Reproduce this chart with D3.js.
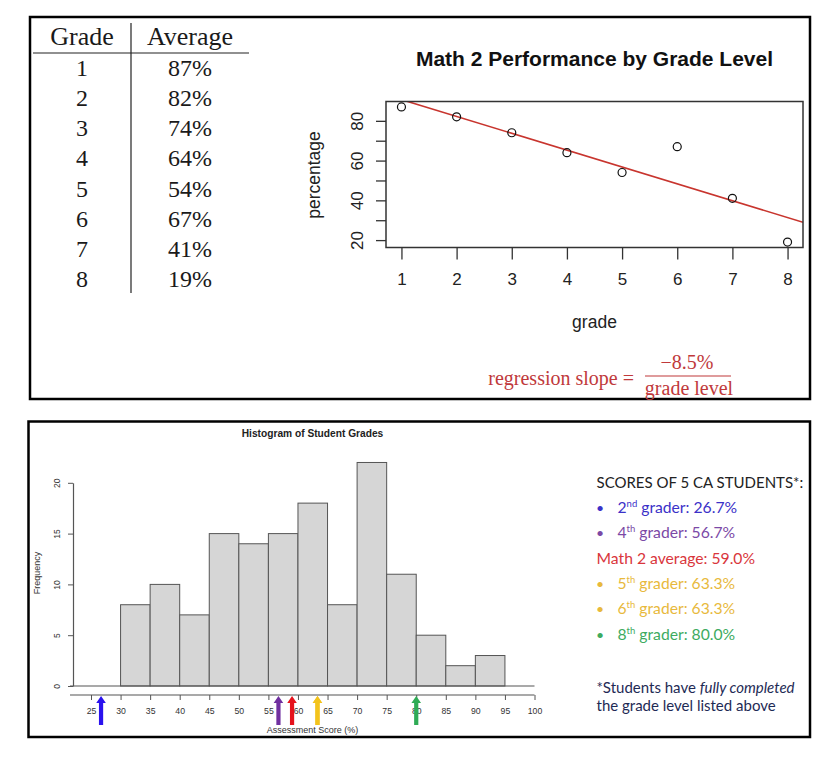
<!DOCTYPE html>
<html>
<head>
<meta charset="utf-8">
<script src="https://cdn.jsdelivr.net/npm/d3@7"></script>
<style>
  html, body { margin: 0; padding: 0; background: #fff; }
  svg { display: block; }
</style>
</head>
<body>
<svg id="chart" width="826" height="757"></svg>
<script>
// ---------- DATA ----------
const grades = [1, 2, 3, 4, 5, 6, 7, 8];
const averages = [87, 82, 74, 64, 54, 67, 41, 19];
const scatterYTicks = [20, 30, 40, 50, 60, 70, 80];
const scatterYLabels = [20, 40, 60, 80];

const binStarts = [30, 35, 40, 45, 50, 55, 60, 65, 70, 75, 80, 85, 90];
const binWidth = 5;
const counts = [8, 10, 7, 15, 14, 15, 18, 8, 22, 11, 5, 2, 3];
const histXTicks = [25, 30, 35, 40, 45, 50, 55, 60, 65, 70, 75, 80, 85, 90, 95, 100];
const histYTicks = [0, 5, 10, 15, 20];

const studentLabels = ["2nd grader", "4th grader", "Math 2 average", "5th grader", "6th grader", "8th grader"];
const studentScores = [26.7, 56.7, 59.0, 63.3, 63.3, 80.0];
const arrowColors = ["#2a12ee", "#7030a0", "#e5121c", "#f3c31c", "#f3c31c", "#2fab55"];
const textColors = ["#3b31c8", "#7b49a6", "#d9363c", "#e8b93c", "#e8b93c", "#3dab60"];

// ---------- SETUP ----------
const svg = d3.select("#chart");
const sans = "Liberation Sans, Arial, Helvetica, sans-serif";
const serif = "Liberation Serif, Times New Roman, serif";
const lato = "Lato, Noto Sans, sans-serif";

// Panel borders
svg.append("rect").attr("x", 30).attr("y", 17).attr("width", 780).attr("height", 382)
  .attr("fill", "none").attr("stroke", "#000").attr("stroke-width", 2.5);
svg.append("rect").attr("x", 28.5).attr("y", 421.5).attr("width", 781.5).attr("height", 315.5)
  .attr("fill", "none").attr("stroke", "#000").attr("stroke-width", 2.5);

// ---------- TABLE ----------
const tbl = svg.append("g").attr("font-family", serif).attr("fill", "#1a1a1a");
const colGrade = 82, colAvg = 190;
tbl.append("text").attr("x", colGrade).attr("y", 45).attr("text-anchor", "middle")
  .attr("font-size", 26).text("Grade");
tbl.append("text").attr("x", colAvg).attr("y", 45).attr("text-anchor", "middle")
  .attr("font-size", 26).text("Average");
tbl.append("line").attr("x1", 33).attr("x2", 249).attr("y1", 53).attr("y2", 53)
  .attr("stroke", "#222").attr("stroke-width", 1.2);
tbl.append("line").attr("x1", 131).attr("x2", 131).attr("y1", 23).attr("y2", 293)
  .attr("stroke", "#222").attr("stroke-width", 1.2);
const rowY = d3.scalePoint().domain(grades).range([76, 287]);
tbl.selectAll("text.g").data(grades).join("text").attr("class", "g")
  .attr("x", colGrade).attr("y", d => rowY(d)).attr("text-anchor", "middle")
  .attr("font-size", 24).text(d => d);
tbl.selectAll("text.a").data(averages).join("text").attr("class", "a")
  .attr("x", colAvg).attr("y", (d, i) => rowY(grades[i])).attr("text-anchor", "middle")
  .attr("font-size", 24).text(d => d + "%");

// ---------- SCATTER ----------
const sx = d3.scaleLinear().domain([0.72, 8.28]).range([386, 803]);
const sy = d3.scaleLinear().domain([16.28, 89.72]).range([247.5, 101.5]);
const sc = svg.append("g");

sc.append("text").attr("x", 594.5).attr("y", 66).attr("text-anchor", "middle")
  .attr("font-family", sans).attr("font-weight", "bold").attr("font-size", 21)
  .attr("fill", "#111").text("Math 2 Performance by Grade Level");

// regression (least squares computed from data)
const mx = d3.mean(grades), my = d3.mean(averages);
const slope = d3.sum(grades, (g, i) => (g - mx) * (averages[i] - my)) / d3.sum(grades, g => (g - mx) ** 2);
const intercept = my - slope * mx;

svg.append("clipPath").attr("id", "sclip").append("rect")
  .attr("x", 386).attr("y", 101.5).attr("width", 417).attr("height", 146);
sc.append("line").attr("clip-path", "url(#sclip)")
  .attr("x1", sx(0.72)).attr("y1", sy(intercept + slope * 0.72))
  .attr("x2", sx(8.28)).attr("y2", sy(intercept + slope * 8.28))
  .attr("stroke", "#c8352e").attr("stroke-width", 1.6);

sc.selectAll("circle").data(grades).join("circle")
  .attr("cx", d => sx(d)).attr("cy", (d, i) => sy(averages[i])).attr("r", 4)
  .attr("fill", "none").attr("stroke", "#111").attr("stroke-width", 1.2);

sc.append("rect").attr("x", 386).attr("y", 101.5).attr("width", 417).attr("height", 146)
  .attr("fill", "none").attr("stroke", "#333").attr("stroke-width", 1.5);

const sxAxis = sc.append("g").attr("transform", "translate(0,247.5)")
  .call(d3.axisBottom(sx).tickValues(grades).tickSize(12).tickFormat(d3.format("d")));
sxAxis.select(".domain").remove();
sxAxis.selectAll("line").attr("stroke", "#333").attr("stroke-width", 1.3);
sxAxis.selectAll("text").attr("y", 37.5).attr("dy", 0)
  .attr("font-family", sans).attr("font-size", 17).attr("fill", "#222");

const syAxis = sc.append("g").attr("transform", "translate(386,0)")
  .call(d3.axisLeft(sy).tickValues(scatterYTicks).tickSize(10)
    .tickFormat(d => scatterYLabels.includes(d) ? d : ""));
syAxis.select(".domain").remove();
syAxis.selectAll("line").attr("stroke", "#333").attr("stroke-width", 1.3);
syAxis.selectAll("text").attr("x", null).attr("dy", 0)
  .attr("transform", "translate(-23,0) rotate(-90)").attr("text-anchor", "middle")
  .attr("font-family", sans).attr("font-size", 17).attr("fill", "#222");

sc.append("text").attr("transform", "translate(320,175) rotate(-90)").attr("text-anchor", "middle")
  .attr("font-family", sans).attr("font-size", 17.5).attr("fill", "#222").text("percentage");
sc.append("text").attr("x", 594.5).attr("y", 328).attr("text-anchor", "middle")
  .attr("font-family", sans).attr("font-size", 17.5).attr("fill", "#222").text("grade");

// regression slope formula
const red = "#c0393b";
const fm = svg.append("g").attr("font-family", serif).attr("fill", red).attr("font-size", 20);
fm.append("text").attr("x", 634).attr("y", 385).attr("text-anchor", "end").text("regression slope =");
fm.append("text").attr("x", 687).attr("y", 369).attr("text-anchor", "middle")
  .text("\u2212" + Math.abs(Math.round(slope * 10) / 10) + "%");
fm.append("line").attr("x1", 645).attr("x2", 731).attr("y1", 376).attr("y2", 376)
  .attr("stroke", red).attr("stroke-width", 1.1);
fm.append("text").attr("x", 689).attr("y", 394.5).attr("text-anchor", "middle").text("grade level");

// ---------- HISTOGRAM ----------
const hx = d3.scaleLinear().domain([25, 100]).range([91, 534.5]);
const hy = d3.scaleLinear().domain([0, 20]).range([686, 482.8]);
const h = svg.append("g");
const gray = "#555";

h.append("text").attr("x", 312.5).attr("y", 437).attr("text-anchor", "middle")
  .attr("font-family", sans).attr("font-weight", "bold").attr("font-size", 10.2)
  .attr("fill", "#222").text("Histogram of Student Grades");

h.selectAll("rect.bar").data(counts).join("rect").attr("class", "bar")
  .attr("x", (d, i) => hx(binStarts[i])).attr("width", (d, i) => hx(binStarts[i] + binWidth) - hx(binStarts[i]))
  .attr("y", d => hy(d)).attr("height", d => hy(0) - hy(d))
  .attr("fill", "#d6d6d6").attr("stroke", gray).attr("stroke-width", 1);

// baseline at zero
h.append("line").attr("x1", 70).attr("x2", hx(100)).attr("y1", hy(0)).attr("y2", hy(0))
  .attr("stroke", gray).attr("stroke-width", 1.2);

const hyAxis = h.append("g").attr("transform", "translate(73,0)")
  .call(d3.axisLeft(hy).tickValues(histYTicks).tickSize(5).tickSizeOuter(0));
hyAxis.select(".domain").attr("stroke", gray).attr("stroke-width", 1.2);
hyAxis.selectAll("line").attr("stroke", gray);
hyAxis.selectAll("text").attr("x", null).attr("dy", 0)
  .attr("transform", "translate(-13,0) rotate(-90)").attr("text-anchor", "middle")
  .attr("font-family", sans).attr("font-size", 8.5).attr("fill", "#333");

const hxAxis = h.append("g").attr("transform", "translate(0,695)")
  .call(d3.axisBottom(hx).tickValues(histXTicks).tickSize(5).tickSizeOuter(0));
hxAxis.select(".domain").remove();
hxAxis.selectAll("line").attr("stroke", gray);
hxAxis.selectAll("text").attr("y", 19).attr("dy", 0)
  .attr("font-family", sans).attr("font-size", 8.7).attr("fill", "#333");
h.append("line").attr("x1", 70).attr("x2", hx(100)).attr("y1", 695).attr("y2", 695)
  .attr("stroke", gray).attr("stroke-width", 1.2);

h.append("text").attr("transform", "translate(39.5,573) rotate(-90)").attr("text-anchor", "middle")
  .attr("font-family", sans).attr("font-size", 9).attr("fill", "#333").text("Frequency");
h.append("text").attr("x", 312.5).attr("y", 733).attr("text-anchor", "middle")
  .attr("font-family", sans).attr("font-size", 9).attr("fill", "#333").text("Assessment Score (%)");

// arrows
const tipY = 696, baseY = 725, headH = 7, headW = 4.8, shaftW = 2.1;
h.selectAll("path.arrow").data(studentScores).join("path").attr("class", "arrow")
  .attr("d", d => {
    const c = hx(d);
    return `M${c},${tipY} L${c + headW},${tipY + headH} L${c + shaftW},${tipY + headH} L${c + shaftW},${baseY} ` +
      `L${c - shaftW},${baseY} L${c - shaftW},${tipY + headH} L${c - headW},${tipY + headH} Z`;
  })
  .attr("fill", (d, i) => arrowColors[i]);

// ---------- LEGEND TEXT ----------
const lg = svg.append("g").attr("font-family", lato);
lg.append("text").attr("x", 596.5).attr("y", 488).attr("font-size", 15)
  .attr("fill", "#222").text("SCORES OF 5 CA STUDENTS*:");
const rowBase = [512.7, 538.3, 563.5, 588.5, 614, 640];
studentLabels.forEach((lab, i) => {
  const isAvg = lab.startsWith("Math");
  const t = lg.append("text").attr("y", rowBase[i]).attr("font-size", 15.7).attr("fill", textColors[i]);
  if (isAvg) {
    t.attr("x", 596.5).text(`${lab}: ${studentScores[i].toFixed(1)}%`);
  } else {
    lg.append("text").attr("x", 596).attr("y", rowBase[i]).attr("font-size", 14)
      .attr("fill", textColors[i]).text("\u2022");
    const m = lab.match(/^(\d)(st|nd|rd|th)(.*)$/);
    t.attr("x", 617.5);
    t.append("tspan").text(m[1]);
    t.append("tspan").attr("font-size", 9.5).attr("dy", -6).text(m[2]);
    t.append("tspan").attr("dy", 6).text(m[3] + `: ${studentScores[i].toFixed(1)}%`);
  }
});
const navy = "#1e2a55";
const f1 = lg.append("text").attr("x", 596.5).attr("y", 693).attr("font-size", 15).attr("fill", navy);
f1.append("tspan").text("*Students have ");
f1.append("tspan").attr("font-style", "italic").text("fully completed");
lg.append("text").attr("x", 596.5).attr("y", 711).attr("font-size", 15).attr("fill", navy)
  .text("the grade level listed above");
</script>
</body>
</html>
